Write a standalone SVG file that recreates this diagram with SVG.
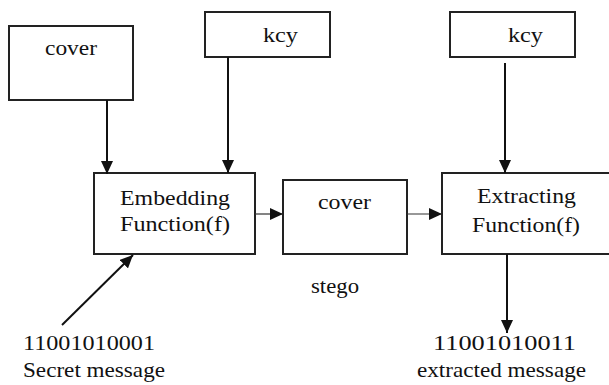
<svg xmlns="http://www.w3.org/2000/svg" width="609" height="385" viewBox="0 0 609 385">
<style>
.box{fill:#fff;stroke:#222;stroke-width:2}
.t{font-family:"Liberation Serif","Times New Roman",serif;font-size:21px;fill:#111}
.c{stroke:#111;stroke-width:2;fill:none}
.thin{stroke:#333;stroke-width:1.2;fill:none}
</style>
<defs>
<marker id="ah" viewBox="0 0 13 12" refX="13" refY="6" markerWidth="13" markerHeight="12" markerUnits="userSpaceOnUse" orient="auto">
<path d="M0,0 L13,6 L0,12 Z" fill="#111"/>
</marker>
</defs>
<rect width="609" height="385" fill="#fff"/>
<g id="cover">
<rect class="box" x="9" y="26" width="124" height="74"/>
<text class="t" x="45" y="55" textLength="52" lengthAdjust="spacingAndGlyphs">cover</text>
</g>
<g id="key1">
<rect class="box" x="205" y="12" width="125" height="45"/>
<text class="t" x="263" y="42" textLength="35" lengthAdjust="spacingAndGlyphs">kcy</text>
</g>
<g id="key2">
<rect class="box" x="450" y="12" width="125" height="45"/>
<text class="t" x="508" y="42" textLength="35" lengthAdjust="spacingAndGlyphs">kcy</text>
</g>
<g id="embedding">
<rect class="box" x="94" y="173" width="161" height="81"/>
<text class="t" x="120" y="205" textLength="110" lengthAdjust="spacingAndGlyphs">Embedding</text>
<text class="t" x="120" y="231" textLength="110" lengthAdjust="spacingAndGlyphs">Function(f)</text>
</g>
<g id="stego-cover">
<rect class="box" x="283" y="180" width="124" height="74"/>
<text class="t" x="318" y="209" textLength="53" lengthAdjust="spacingAndGlyphs">cover</text>
</g>
<g id="extracting">
<rect class="box" x="442" y="173" width="172" height="81"/>
<text class="t" x="477" y="203" textLength="99" lengthAdjust="spacingAndGlyphs">Extracting</text>
<text class="t" x="472" y="232" textLength="108" lengthAdjust="spacingAndGlyphs">Function(f)</text>
</g>
<g id="labels">
<text class="t" x="311" y="293" textLength="48" lengthAdjust="spacingAndGlyphs">stego</text>
<text class="t" x="23" y="350" textLength="132" lengthAdjust="spacingAndGlyphs">11001010001</text>
<text class="t" x="23" y="377" textLength="142" lengthAdjust="spacingAndGlyphs">Secret message</text>
<text class="t" x="433" y="350" textLength="143" lengthAdjust="spacingAndGlyphs">11001010011</text>
<text class="t" x="417" y="377" textLength="169" lengthAdjust="spacingAndGlyphs">extracted message</text>
</g>
<g id="connectors">
<line class="c" x1="107" y1="100" x2="107" y2="174" marker-end="url(#ah)"/>
<line class="c" x1="228" y1="57" x2="228" y2="173" marker-end="url(#ah)"/>
<line class="c" x1="505" y1="63" x2="505" y2="173" marker-end="url(#ah)"/>
<line class="thin" x1="255" y1="214" x2="283" y2="214" marker-end="url(#ah)"/>
<line class="thin" x1="407" y1="214" x2="442" y2="214" marker-end="url(#ah)"/>
<line class="c" x1="507" y1="254" x2="507" y2="333" marker-end="url(#ah)"/>
<line class="c" x1="62" y1="325" x2="133" y2="255" marker-end="url(#ah)"/>
</g>
</svg>
